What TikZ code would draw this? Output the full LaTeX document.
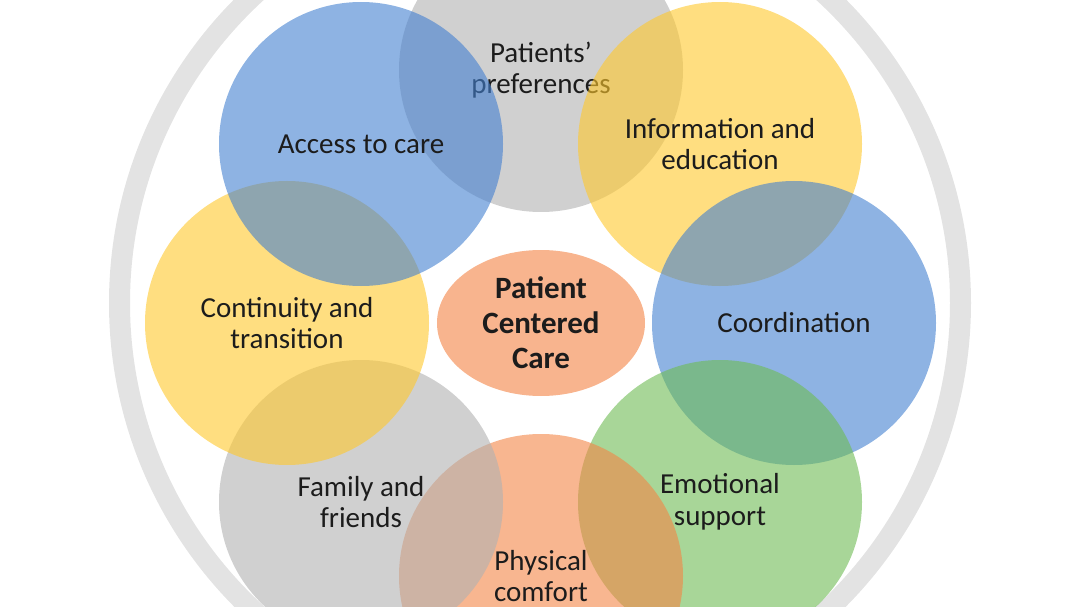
\documentclass[tikz,border=0pt]{standalone}
\usepackage{fontspec}
\setmainfont{Carlito}
\usetikzlibrary{shapes.geometric}
\definecolor{ringgray}{RGB}{227,227,227}
\definecolor{petalblue}{RGB}{67,128,208}
\definecolor{petalgray}{RGB}{177,177,177}
\definecolor{petalyellow}{RGB}{255,200,43}
\definecolor{petalgreen}{RGB}{110,187,83}
\definecolor{petalorange}{RGB}{243,133,70}
\definecolor{hubfill}{RGB}{248,180,142}
\definecolor{textdark}{RGB}{28,28,28}
\tikzset{
	petal/.style={circle, minimum size=284pt, inner sep=0pt, fill opacity=0.6, text opacity=1, align=center, text=textdark, font=\fontsize{29}{31.5}\selectfont},
	hub/.style={ellipse, fill=hubfill, minimum width=208pt, minimum height=146pt, inner sep=0pt, align=center, text=textdark, font=\bfseries\fontsize{31}{35}\selectfont}
}

\begin{document}
\begin{tikzpicture}[x=1pt, y=-1pt]
		%%%%% START %%%%%
		\useasboundingbox (0, 0) rectangle (1080, 607);
		\clip (0, 0) rectangle (1080, 607);
		
		\draw[ringgray, line width=21pt] (540, 303) circle (420.5pt);
		
		\node[petal, fill=petalgray] (prefs) at (541, 70) {Patients'\\preferences};
		\node[petal, fill=petalyellow] (info) at (720, 144) {Information and\\education};
		\node[petal, fill=petalblue] (coord) at (794, 323) {Coordination};
		\node[petal, fill=petalgreen] (emotion) at (720, 502) {Emotional\\support};
		\node[petal, fill=petalorange] (comfort) at (541, 576) {Physical\\comfort};
		\node[petal, fill=petalgray] (family) at (361, 502) {Family and\\friends};
		\node[petal, fill=petalyellow] (contin) at (287, 323) {Continuity and\\transition};
		\node[petal, fill=petalblue] (access) at (361, 144) {Access to care};
		
		\node[hub] (pcc) at (541, 323) {Patient\\Centered\\Care};
		%%%%% END %%%%%
\end{tikzpicture}
\end{document}
